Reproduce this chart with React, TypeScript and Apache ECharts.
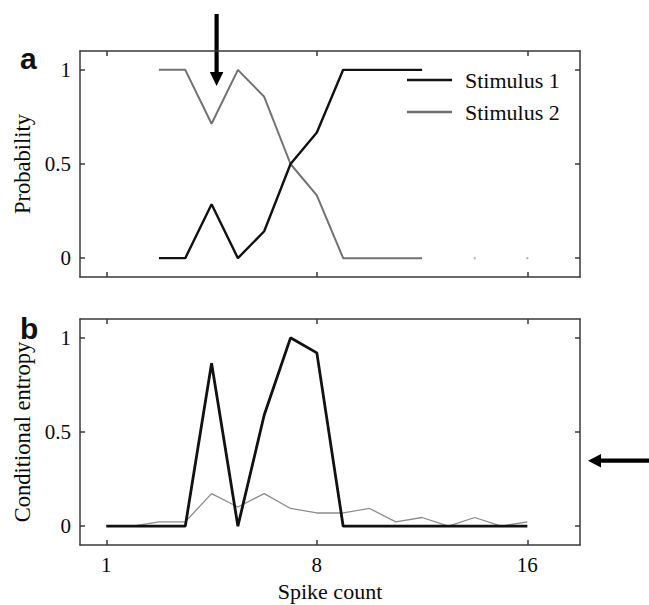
import React, { useEffect, useRef } from "react";
import * as echarts from "echarts";

// ---- data ----
const topSpikeCounts = [2, 3, 4, 5, 6, 7, 8, 9, 10, 11, 12];
const stimulus1 = [0, 0, 0.286, 0, 0.143, 0.5, 0.667, 1, 1, 1, 1];
const stimulus2 = [1, 1, 0.714, 1, 0.857, 0.5, 0.333, 0, 0, 0, 0];
const strayX = [14, 16];
const strayY = [0, 0];

const bottomSpikeCounts = [0, 1, 2, 3, 4, 5, 6, 7, 8, 9, 10, 11, 12, 13, 14, 15, 16];
const entropyBlack = [0, 0, 0, 0, 0.865, 0, 0.59, 1, 0.92, 0, 0, 0, 0, 0, 0, 0, 0];
const entropyGray = [0, 0, 0.023, 0.023, 0.173, 0.102, 0.173, 0.094, 0.07, 0.07, 0.094, 0.023, 0.046, 0, 0.046, 0, 0.023];

const xTickValues = [0, 8, 16];
const xTickLabels = ["1", "8", "16"];
const yTickValues = [0, 0.5, 1];
const yTickLabels = ["0", "0.5", "1"];

const legendNames = ["Stimulus 1", "Stimulus 2"];
const panelLabels = ["a", "b"];
const yAxisNames = ["Probability", "Conditional entropy"];
const xAxisName = "Spike count";

const SERIF = "Liberation Serif";
const SANS = "Liberation Sans";
const AX = "#3a3a3a";
const TXT = "#0a0a0a";

function zip(xs: number[], ys: number[]) {
  return xs.map((x, i) => [x, ys[i]]);
}

export default function App() {
  const ref = useRef<HTMLDivElement>(null);
  useEffect(() => {
    if (!ref.current) return;
    const chart = echarts.init(ref.current, null, { renderer: "svg" });

    const lineAx = { show: true, lineStyle: { color: AX, width: 1.5 } };
    const tickX = { show: true, inside: true, length: 5, customValues: xTickValues, lineStyle: { color: AX, width: 1.5 } };
    const tickY = { show: true, inside: true, length: 5, customValues: yTickValues, lineStyle: { color: AX, width: 1.5 } };

    const mkX = (grid: number, position: string, labels: boolean) => ({
      type: "value",
      gridIndex: grid,
      position,
      min: -1,
      max: 18,
      axisLine: { ...lineAx, onZero: false },
      axisTick: tickX,
      splitLine: { show: false },
      axisLabel: labels
        ? {
            show: true,
            customValues: xTickValues,
            margin: 9,
            fontFamily: SERIF,
            fontSize: 21,
            color: TXT,
            formatter: (v: number) => xTickLabels[xTickValues.indexOf(v)] ?? "",
          }
        : { show: false },
      ...(labels
        ? {
            name: xAxisName,
            nameLocation: "middle",
            nameGap: 35,
            nameTextStyle: { fontFamily: SERIF, fontSize: 22, color: TXT },
          }
        : {}),
    });

    const mkY = (grid: number, position: string, name: string | null) => ({
      type: "value",
      gridIndex: grid,
      position,
      min: -0.1,
      max: 1.1,
      axisLine: { ...lineAx, onZero: false },
      axisTick: tickY,
      splitLine: { show: false },
      axisLabel: name
        ? {
            show: true,
            customValues: yTickValues,
            margin: 9,
            fontFamily: SERIF,
            fontSize: 21,
            color: TXT,
            formatter: (v: number) => yTickLabels[yTickValues.indexOf(v)] ?? "",
          }
        : { show: false },
      ...(name
        ? {
            name,
            nameLocation: "middle",
            nameGap: 45,
            nameTextStyle: { fontFamily: SERIF, fontSize: 22.5, color: TXT },
          }
        : {}),
    });

    chart.setOption({
      animation: false,
      backgroundColor: "#ffffff",
      textStyle: { fontFamily: SERIF },
      grid: [
        { left: 80, top: 51, width: 500, height: 226 },
        { left: 80, top: 319, width: 500, height: 226 },
      ],
      xAxis: [mkX(0, "bottom", false), mkX(0, "top", false), mkX(1, "bottom", true), mkX(1, "top", false)],
      yAxis: [mkY(0, "left", yAxisNames[0]), mkY(0, "right", null), mkY(1, "left", yAxisNames[1]), mkY(1, "right", null)],
      legend: {
        data: [
          { name: legendNames[0], icon: "rect", itemStyle: { color: "#111111" } },
          { name: legendNames[1], icon: "rect", itemStyle: { color: "#6e6e6e" } },
        ],
        orient: "vertical",
        left: 402,
        top: 63,
        itemWidth: 45,
        itemHeight: 2.6,
        itemGap: 8,
        textStyle: { fontFamily: SERIF, fontSize: 22, color: TXT, padding: [0, 0, 0, 8], lineHeight: 24 },
      },
      series: [
        {
          name: legendNames[1],
          type: "line",
          xAxisIndex: 0,
          yAxisIndex: 0,
          data: zip(topSpikeCounts, stimulus2),
          symbol: "none",
          lineStyle: { color: "#727272", width: 2 },
          itemStyle: { color: "#727272" },
          z: 2,
        },
        {
          name: legendNames[0],
          type: "line",
          xAxisIndex: 0,
          yAxisIndex: 0,
          data: zip(topSpikeCounts, stimulus1),
          symbol: "none",
          lineStyle: { color: "#111111", width: 2.4 },
          itemStyle: { color: "#111111" },
          z: 3,
        },
        {
          name: "stray",
          type: "scatter",
          xAxisIndex: 0,
          yAxisIndex: 0,
          data: zip(strayX, strayY),
          symbol: "rect",
          symbolSize: 2,
          itemStyle: { color: "#9a9a9a" },
        },
        {
          name: "Entropy gray",
          type: "line",
          xAxisIndex: 2,
          yAxisIndex: 2,
          data: zip(bottomSpikeCounts, entropyGray),
          symbol: "none",
          lineStyle: { color: "#8c8c8c", width: 1.3 },
          z: 2,
        },
        {
          name: "Entropy black",
          type: "line",
          xAxisIndex: 2,
          yAxisIndex: 2,
          data: zip(bottomSpikeCounts, entropyBlack),
          symbol: "none",
          lineStyle: { color: "#111111", width: 2.8 },
          z: 3,
        },
      ],
      graphic: [
        {
          type: "text",
          left: 20,
          top: 43,
          style: { text: panelLabels[0], fontFamily: SANS, fontWeight: "bold", fontSize: 30, fill: "#111" },
        },
        {
          type: "text",
          left: 20,
          top: 313,
          style: { text: panelLabels[1], fontFamily: SANS, fontWeight: "bold", fontSize: 30, fill: "#111" },
        },
        // top arrow
        { type: "rect", shape: { x: 214.5, y: 14, width: 4.2, height: 60 }, style: { fill: "#000" } },
        { type: "polygon", shape: { points: [[209.8, 72], [223.4, 72], [216.6, 86]] }, style: { fill: "#000" } },
        // right arrow
        { type: "rect", shape: { x: 598, y: 458.6, width: 51, height: 4.2 }, style: { fill: "#000" } },
        { type: "polygon", shape: { points: [[588, 460.7], [601, 454], [601, 467.4]] }, style: { fill: "#000" } },
      ],
    });
    return () => chart.dispose();
  }, []);
  return (
    <div
      ref={ref}
      style={{ position: "fixed", left: 0, top: 0, width: 649, height: 605, background: "#fff" }}
    />
  );
}
